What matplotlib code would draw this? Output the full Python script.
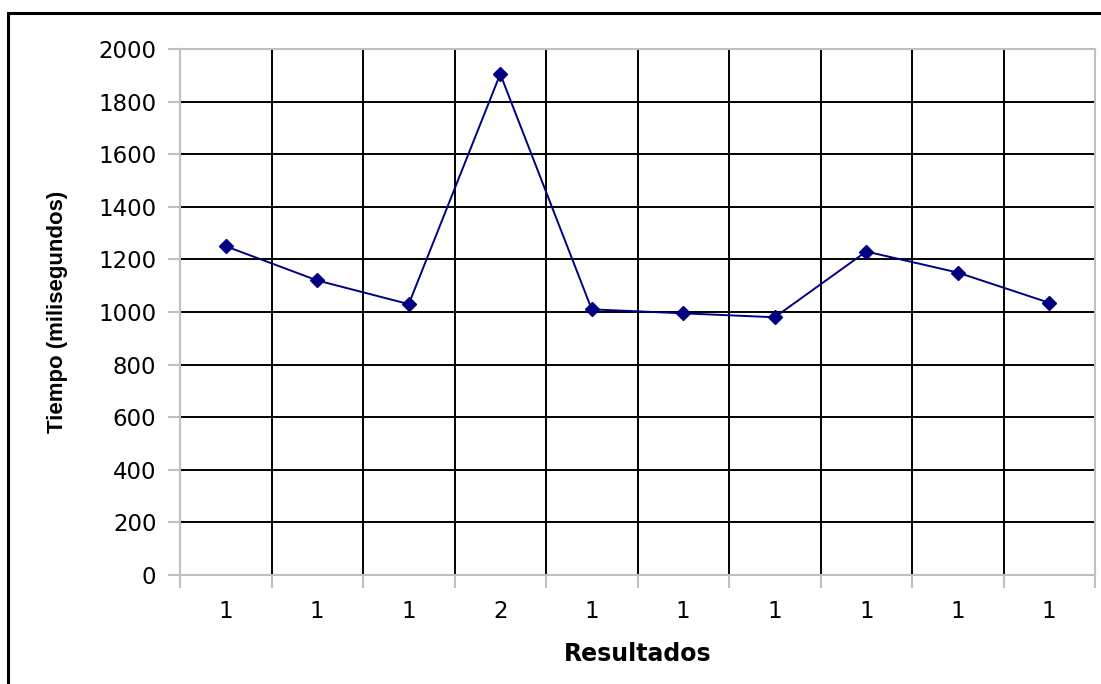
import matplotlib.pyplot as plt
import numpy as np
from matplotlib.patches import Rectangle

plt.rcParams['font.family'] = ['DejaVu Sans']

# datos
labels = ["1", "1", "1", "2", "1", "1", "1", "1", "1", "1"]
tiempos = [1250, 1120, 1030, 1905, 1010, 995, 980, 1230, 1150, 1035]

fig = plt.figure(figsize=(11.01, 6.84), dpi=100)
ax = fig.add_axes([180/1101, (684-575)/684, (1095-180)/1101, (575-49)/684])

x = np.arange(len(tiempos))
ax.plot(x, tiempos, color='#000080', linewidth=1.4, marker='D', markersize=7.5, zorder=3)

ax.set_xlim(-0.5, len(tiempos) - 0.5)
ax.set_ylim(0, 2000)
ax.set_yticks(np.arange(0, 2001, 200))
ax.set_xticks(x)
ax.set_xticklabels(labels)
ax.set_xticks(np.arange(-0.5, len(tiempos), 1), minor=True)

ax.grid(True, which='major', axis='y', color='black', linewidth=1.4)
ax.grid(True, which='minor', axis='x', color='black', linewidth=1.4)
ax.set_axisbelow(True)

for s in ax.spines.values():
    s.set_color('#c0c0c0')
    s.set_linewidth(1.5)
    s.set_zorder(2.5)

ax.tick_params(axis='x', which='major', length=0, pad=18, labelsize=16.5)
ax.tick_params(axis='x', which='minor', length=9, color='#c0c0c0', width=1.5)
ax.tick_params(axis='y', length=9, color='#c0c0c0', width=1.5, labelsize=16.5, pad=8)

ax.set_xlabel('Resultados', fontsize=17, fontweight='bold', labelpad=14)
ax.set_ylabel('Tiempo (milisegundos)', fontsize=16, fontweight='bold', labelpad=22,
              family='Liberation Sans')

# borde del grafico
fig.patches.append(Rectangle((8/1101, -0.1), 1.2, (684-13)/684 + 0.1, transform=fig.transFigure,
                             fill=False, edgecolor='black', linewidth=2.2))

fig.savefig('out.png', dpi=100)
